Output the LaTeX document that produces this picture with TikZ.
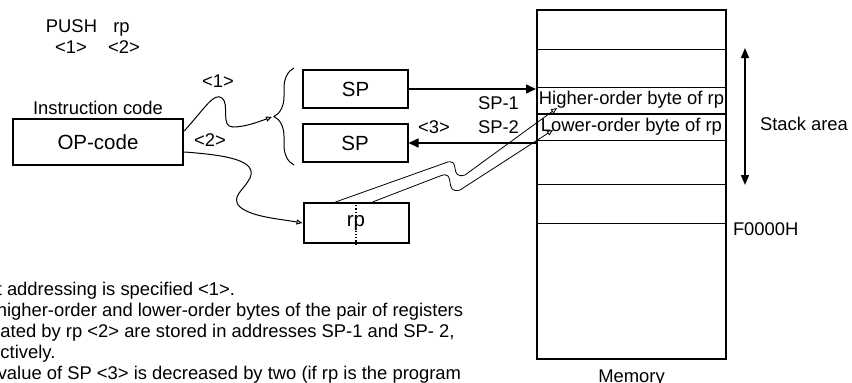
\documentclass[tikz,border=0pt]{standalone}
\usepackage{fontspec}
\setmainfont{Liberation Sans}
\usepackage{tikz}
\usetikzlibrary{arrows.meta, positioning, calc, decorations.pathreplacing}
\tikzset{
  reg/.style={rectangle, draw, line width=2pt, minimum width=105pt, minimum height=38pt,
    inner sep=0pt, font=\fontsize{20.5}{24}\selectfont},
  opbox/.style={reg, line width=2.5pt, minimum width=170pt, minimum height=46pt},
  membox/.style={rectangle, draw, line width=2pt, minimum width=189pt, minimum height=349pt, inner sep=0pt},
  cell/.style={rectangle, draw, line width=1pt, minimum width=189pt, minimum height=26pt,
    inner sep=0pt, font=\fontsize{18.4}{22}\selectfont},
  lbl/.style={inner sep=0pt, outer sep=0pt, font=\fontsize{18.4}{22}\selectfont},
  note/.style={lbl, anchor=base west},
  arrow/.style={-{Triangle[length=10pt, width=9pt]}, line width=1.5pt},
  dblarrow/.style={{Triangle[length=10pt, width=8pt]}-{Triangle[length=10pt, width=8pt]}, line width=1.5pt},
  thinarrow/.style={-{Triangle[open, length=6pt, width=5pt]}, line width=1pt},
  wave/.style={-{Triangle[open, length=6pt, width=5pt]}, line width=0.8pt},
  sep/.style={line width=1pt}
}
\begin{document}
\begin{tikzpicture}[x=1pt, y=-1pt]
  \useasboundingbox (0,0) rectangle (852,383);
  \clip (0,0) rectangle (852,383);
  % instruction
  \node[lbl, anchor=base] (push) at (71.5,32) {PUSH};
  \node[lbl, anchor=base] (rpop) at (121.5,32) {rp};
  \node[lbl, anchor=base] (m1) at (71,53) {<1>};
  \node[lbl, anchor=base] (m2) at (124,53) {<2>};
  \node[opbox] (op) at (98,142) {OP-code};
  \node[lbl, above=3pt of op] (inst) {Instruction code};
  % registers
  \node[reg] (sp1) at (355.5,89) {SP};
  \node[reg] (sp2) at (355,143) {SP};
  \node[reg, minimum height=40pt] (rp) at (356,223) {rp};
  \draw[dotted, line width=1.2pt] (rp.north) -- (rp.south);
  \coordinate (brtop) at (294,68);
  \coordinate (brbot) at (294,165);
  \coordinate (brtip) at (272,117);
  \draw[decorate, decoration={brace, amplitude=20pt}, line width=1pt] (brbot) -- (brtop);
  % memory
  \node[membox] (mem) at (631.5,184.5) {};
  \foreach \y in {49,184,223}
    \draw[sep] (mem.west |- 0,\y) -- (mem.east |- 0,\y);
  \node[cell] (hi) at (631.5,100) {Higher-order byte of rp};
  \node[cell] (lo) at (631.5,127) {Lower-order byte of rp};
  \node[lbl, below=9.5pt of mem] (memlbl) {Memory};
  \node[lbl, anchor=west] (fadr) at (733,229) {F0000H};
  \coordinate (stop) at (745,48);
  \coordinate (sbot) at (745,185);
  \draw[dblarrow] (stop) -- (sbot);
  \node[lbl, anchor=west] (stk) at (760,124) {Stack area};
  % connectors
  \node[lbl] (l1) at (218,81) {<1>};
  \node[lbl] (l2) at (210,140) {<2>};
  \draw[thinarrow] ([yshift=11pt]op.east) .. controls (205,108) and (214,92) .. (222,98)
    .. controls (230,104) and (220,127) .. (233,127)
    .. controls (245,127) and (258,122) .. (brtip);
  \draw[thinarrow] ([yshift=-10pt]op.east) .. controls (225,155) and (258,160) .. (250,178)
    .. controls (244,190) and (230,197) .. (240,207)
    .. controls (252,217) and (280,219) .. (rp.west);
  \draw[arrow] (sp1.east) -- (sp1.east -| mem.west);
  \draw[arrow] (sp2.east -| mem.west) -- (sp2.east);
  \node[lbl, anchor=west] (spm1) at (478,103) {SP-1};
  \node[lbl, anchor=west] (spm2) at (478,127) {SP-2};
  \node[lbl] (l3) at (434,127) {<3>};
  \coordinate (hitip) at (557,108);
  \coordinate (lotip) at (553,130);
  \draw[wave] ($(rp.north west)+(33,0)$) -- (445,163)
    .. controls (462,156) and (448,180) .. (465,175) -- (hitip);
  \draw[wave] ($(rp.north west)+(70,0)$) -- (440,176)
    .. controls (457,169) and (443,195) .. (460,190) -- (lotip);
  % notes
  \node[note] (n1) at (-3.2,295) {t addressing is specified <1>.};
  \node[note] (n2) at (-3.2,316) {higher-order and lower-order bytes of the pair of registers};
  \node[note] (n3) at (0.5,337) {ated by rp <2> are stored in addresses SP-1 and SP- 2,};
  \node[note] (n4) at (0.5,358) {ctively.};
  \node[note] (n5) at (-2.2,379) {value of SP <3> is decreased by two (if rp is the program};
\end{tikzpicture}
\end{document}
